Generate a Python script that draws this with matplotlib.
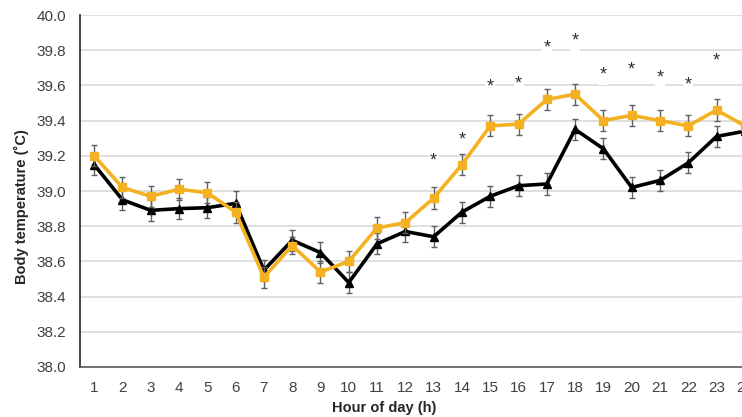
import numpy as np
import matplotlib
matplotlib.use('Agg')
import matplotlib.pyplot as plt

plt.rcParams['font.family'] = ['Liberation Sans', 'DejaVu Sans']

# hours of day
hours = list(range(1, 25))

# body temperature, black series (triangles)
temp_black = [39.15, 38.95, 38.89, 38.90, 38.905, 38.93, 38.55, 38.72, 38.65, 38.48,
              38.70, 38.77, 38.74, 38.88, 38.97, 39.03, 39.04, 39.35, 39.24, 39.02,
              39.06, 39.16, 39.31, 39.34]
err_black = [0.06, 0.06, 0.06, 0.06, 0.06, 0.07, 0.06, 0.06, 0.06, 0.06,
             0.06, 0.06, 0.06, 0.06, 0.06, 0.06, 0.06, 0.06, 0.06, 0.06,
             0.06, 0.06, 0.06, 0.06]

# body temperature, yellow series (squares)
temp_yellow = [39.20, 39.02, 38.97, 39.01, 38.99, 38.88, 38.51, 38.69, 38.54, 38.60,
               38.79, 38.82, 38.96, 39.15, 39.37, 39.38, 39.52, 39.55, 39.40, 39.43,
               39.40, 39.37, 39.46, 39.37]
err_yellow = [0.06, 0.06, 0.06, 0.06, 0.06, 0.06, 0.06, 0.05, 0.06, 0.06,
              0.06, 0.06, 0.06, 0.06, 0.06, 0.06, 0.06, 0.06, 0.06, 0.06,
              0.06, 0.06, 0.06, 0.06]

# significance marks
star_hours = [13, 14, 15, 16, 17, 18, 19, 20, 21, 22, 23]
star_y = [39.17, 39.29, 39.59, 39.61, 39.81, 39.85, 39.66, 39.69, 39.64, 39.60, 39.74]

yellow = '#F4B223'
grey_txt = '#404040'

fig = plt.figure(figsize=(7.42, 4.17), dpi=100)
ax = fig.add_axes([80 / 742, 50 / 417, 679 / 742, 352 / 417])

ax.errorbar(hours, temp_black, yerr=err_black, color='black', lw=2.6,
            marker='^', ms=6, ecolor='#606060', elinewidth=1, capsize=2.5,
            capthick=1, zorder=3)
ax.errorbar(hours, temp_yellow, yerr=err_yellow, color=yellow, lw=2.6,
            marker='s', ms=5.5, ecolor='#606060', elinewidth=1, capsize=2.5,
            capthick=1, zorder=4)

for h, y in zip(star_hours, star_y):
    ax.text(h, y, '*', ha='center', va='center', fontsize=13, color='#303030',
            bbox=dict(facecolor='white', edgecolor='none', pad=1.0), zorder=2)

ax.set_xlim(0.5, 24.5)
ax.set_ylim(38.0, 40.0)
ax.set_xticks(hours)
ax.set_yticks(np.arange(38.0, 40.01, 0.2))
ax.set_yticklabels(['%.1f' % v for v in np.arange(38.0, 40.01, 0.2)])
ax.tick_params(axis='both', length=0, labelsize=11, colors=grey_txt)
ax.tick_params(axis='x', pad=10)
ax.tick_params(axis='y', pad=10)
ax.grid(axis='y', color='#d9d9d9', lw=1.2)
ax.set_axisbelow(True)
for s in ['top', 'right']:
    ax.spines[s].set_visible(False)
ax.spines['left'].set_color('#262626')
ax.spines['bottom'].set_color('#595959')
ax.spines['left'].set_linewidth(1.2)
ax.spines['bottom'].set_linewidth(1.2)

ax.set_xlabel('Hour of day (h)', fontsize=10.5, fontweight='bold', color='#262626')
ax.xaxis.set_label_coords(0.448, -0.097)
ax.set_ylabel('Body temperature (˚C)', fontsize=10.5, fontweight='bold', color='#262626')
ax.yaxis.set_label_coords(-0.075, 0.455)

plt.savefig('out.png', dpi=100, facecolor='w')
